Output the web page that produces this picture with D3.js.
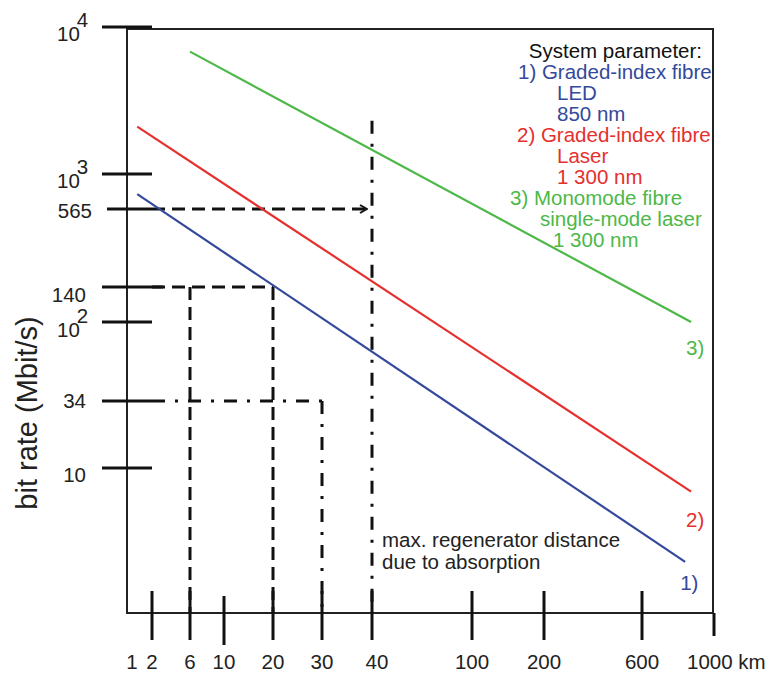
<!DOCTYPE html>
<html>
<head>
<meta charset="utf-8">
<script src="https://cdn.jsdelivr.net/npm/d3@7"></script>
<style>
  body { margin: 0; background: #fff; }
  svg { display: block; font-family: "Liberation Sans", Arial, sans-serif; }
</style>
</head>
<body>
<div id="chart"></div>
<script>
// distance ticks (km) and bit-rate ticks (Mbit/s)
const xTicks = [1, 2, 6, 10, 20, 30, 40, 100, 200, 600, 1000];
const yTicks = [10, 34, 100, 140, 565, 1000, 10000];

// the three system lines, start and end points
const seriesNames = ["1)", "2)", "3)"];
const seriesX = [[1.2, 815], [1.2, 850], [6, 850]];
const seriesY = [[720, 1.8], [2100, 6.5], [6800, 100]];
const seriesColors = ["#34499b", "#e5302e", "#4db848"];

const legendLines = [
  ["System parameter:", "#111"],
  ["1) Graded-index fibre", "#34499b"],
  ["LED", "#34499b"],
  ["850 nm", "#34499b"],
  ["2) Graded-index fibre", "#e5302e"],
  ["Laser", "#e5302e"],
  ["1 300 nm", "#e5302e"],
  ["3) Monomode fibre", "#4db848"],
  ["single-mode laser", "#4db848"],
  ["1 300 nm", "#4db848"]
];

// reading-off guides: horizontal from the axis, vertical down to the axis
const hGuides = [
  { y: 565, x1: 40, dash: "13,7", arrow: true },
  { y: 140, x1: 20, dash: "13,7" },
  { y: 34, x1: 30, dash: "13,10,3,10" }
];
const vGuides = [
  { x: 6, y0: 140, dash: "13,7" },
  { x: 20, y0: 140, dash: "13,7" },
  { x: 30, y0: 34, dash: "13,10,3,10" },
  { x: 40, y0: 2300, dash: "13,10,3,10" }
];

const width = 767, height = 673;
const frameL = 127, frameR = 713, frameT = 29, frameB = 613;

// the original axes are hand drawn, so piecewise log scales through the ticks
const x = d3.scaleLog()
  .domain(xTicks)
  .range([132, 152, 190, 224, 273, 322, 372, 472, 544, 642, 714]);
const y = d3.scaleLog()
  .domain(yTicks)
  .range([468, 401, 322, 287, 209, 174, 27]);

const svg = d3.select("#chart")
  .append("svg")
  .attr("width", width)
  .attr("height", height);

svg.append("defs").append("marker")
  .attr("id", "arrow")
  .attr("viewBox", "-1 -6 9 12")
  .attr("refX", 7)
  .attr("refY", 0)
  .attr("markerUnits", "userSpaceOnUse")
  .attr("markerWidth", 9)
  .attr("markerHeight", 12)
  .attr("orient", "auto")
  .append("path")
  .attr("d", "M0,-4 L7,0 L0,4")
  .attr("fill", "none")
  .attr("stroke", "#111")
  .attr("stroke-width", 2);

// frame
svg.append("path")
  .attr("d", `M${frameL},${frameT} H${frameR} V${frameB} H${frameL} Z`)
  .attr("fill", "none")
  .attr("stroke", "#222")
  .attr("stroke-width", 2);

// guides
svg.append("g").selectAll("line")
  .data(hGuides)
  .join("line")
  .attr("x1", 152)
  .attr("x2", d => d.arrow ? x(d.x1) - 5 : x(d.x1))
  .attr("y1", d => y(d.y))
  .attr("y2", d => y(d.y))
  .attr("stroke", "#111")
  .attr("stroke-width", 3)
  .attr("stroke-dasharray", d => d.dash)
  .attr("marker-end", d => d.arrow ? "url(#arrow)" : null);

svg.append("g").selectAll("line")
  .data(vGuides)
  .join("line")
  .attr("x1", d => x(d.x))
  .attr("x2", d => x(d.x))
  .attr("y1", d => y(d.y0))
  .attr("y2", frameB)
  .attr("stroke", "#111")
  .attr("stroke-width", 3)
  .attr("stroke-dasharray", d => d.dash);

// y ticks
svg.append("g").selectAll("line")
  .data(yTicks)
  .join("line")
  .attr("x1", d => d === 565 ? 107 : 102)
  .attr("x2", d => d === 140 ? 163 : 152)
  .attr("y1", d => y(d))
  .attr("y2", d => y(d))
  .attr("stroke", "#111")
  .attr("stroke-width", 3);

// y labels
const yLabelShift = { 10: 7, 34: 0, 100: 8, 140: 8, 565: 2, 1000: 7, 10000: 7 };
const yLab = svg.append("g")
  .attr("font-size", 20.5)
  .attr("fill", "#222");
yTicks.forEach(v => {
  const isPow = v === 100 || v === 1000 || v === 10000;
  const t = yLab.append("text")
    .attr("y", y(v) + yLabelShift[v])
    .attr("dy", "0.35em");
  if (isPow) {
    t.attr("x", 57).attr("text-anchor", "start");
    t.append("tspan").text("10");
    t.append("tspan")
      .attr("dx", -3)
      .attr("dy", "-0.7em")
      .text(Math.round(Math.log10(v)));
  } else {
    t.attr("x", v === 565 ? 92 : 86).attr("text-anchor", "end").text(v);
  }
});

// x ticks
svg.append("g").selectAll("line")
  .data(xTicks.filter(d => d !== 1))
  .join("line")
  .attr("x1", d => x(d))
  .attr("x2", d => x(d))
  .attr("y1", d => d === 1000 ? frameB : (d === 10 ? 596 : 591))
  .attr("y2", d => d === 1000 ? 636 : (d === 10 ? 645 : 640))
  .attr("stroke", "#111")
  .attr("stroke-width", 3);

svg.append("g")
  .attr("font-size", 20.5)
  .attr("fill", "#222")
  .selectAll("text")
  .data(xTicks)
  .join("text")
  .attr("x", d => d === 1000 ? x(d) - 27 : x(d) + (d === 40 ? 5 : 0))
  .attr("y", 669)
  .attr("text-anchor", d => d === 1000 ? "start" : "middle")
  .text(d => d === 1000 ? "1000 km" : d);

// axis title
svg.append("text")
  .attr("transform", "translate(37,413) rotate(-90)")
  .attr("text-anchor", "middle")
  .attr("font-size", 29)
  .attr("fill", "#222")
  .text("bit rate (Mbit/s)");

// system lines
const line = d3.line().x(d => x(d[0])).y(d => y(d[1]));
svg.append("g").selectAll("path")
  .data(seriesX)
  .join("path")
  .attr("d", (d, i) => line(d.map((xv, j) => [xv, seriesY[i][j]])))
  .attr("fill", "none")
  .attr("stroke", (d, i) => seriesColors[i])
  .attr("stroke-width", 2.2);

// line labels near the right end
const labelDy = [21, 28, 26];
svg.append("g")
  .attr("font-size", 20.5)
  .selectAll("text")
  .data(seriesNames)
  .join("text")
  .attr("x", (d, i) => x(seriesX[i][1]) - 5)
  .attr("y", (d, i) => y(seriesY[i][1]) + labelDy[i])
  .attr("dy", "0.35em")
  .attr("text-anchor", "start")
  .attr("fill", (d, i) => seriesColors[i])
  .text(d => d);

// legend
const legendX = [702, 518, 557, 557, 517, 557, 557, 510, 540, 553];
svg.append("g")
  .attr("font-size", 20.5)
  .selectAll("text")
  .data(legendLines)
  .join("text")
  .attr("x", (d, i) => legendX[i])
  .attr("y", (d, i) => 51 + i * 21)
  .attr("dy", "0.35em")
  .attr("text-anchor", (d, i) => i === 0 ? "end" : "start")
  .attr("fill", d => d[1])
  .text(d => d[0]);

// note
svg.append("g")
  .attr("font-size", 20.5)
  .attr("fill", "#222")
  .selectAll("text")
  .data(["max. regenerator distance", "due to absorption"])
  .join("text")
  .attr("x", 382)
  .attr("y", (d, i) => 540 + i * 22)
  .attr("dy", "0.35em")
  .text(d => d);
</script>
</body>
</html>
